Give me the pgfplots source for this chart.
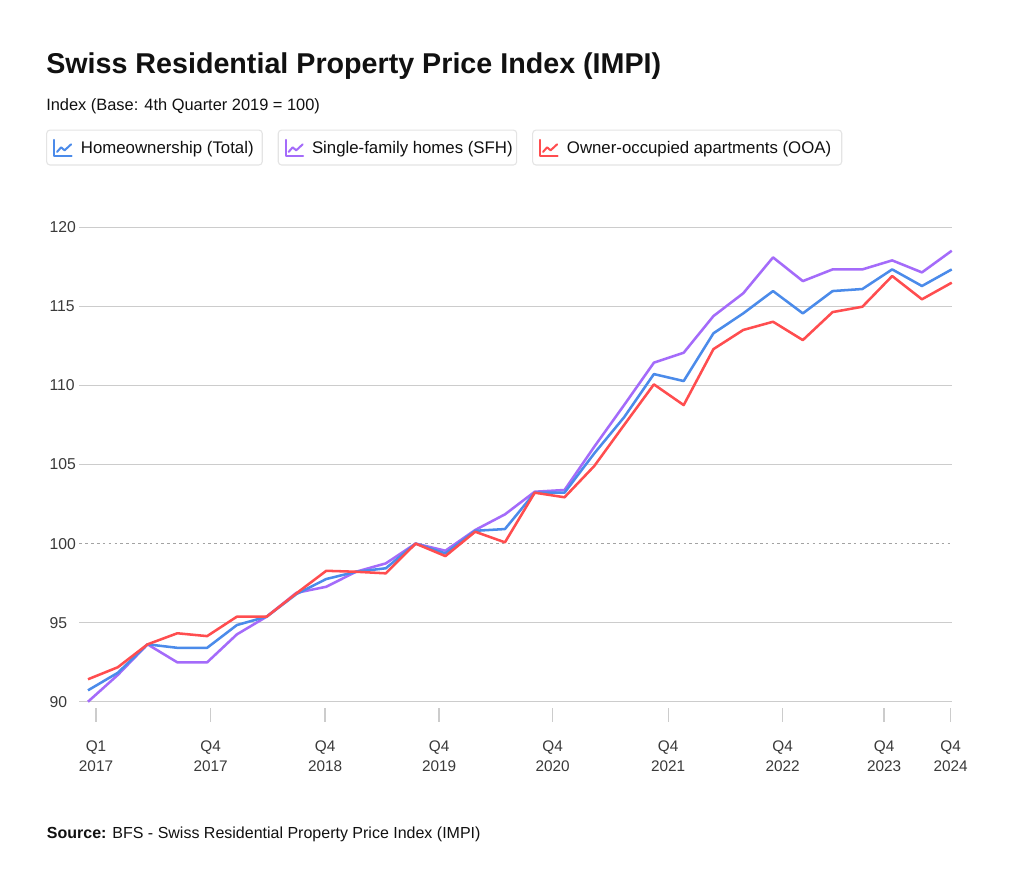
\documentclass[border=0pt]{standalone}
\usepackage{pgfplots}
\pgfplotsset{compat=1.18}
\usepackage{fontspec}
\setmainfont{Liberation Sans}

\definecolor{ctotal}{HTML}{4B8BEA}
\definecolor{csfh}{HTML}{A46BFA}
\definecolor{cooa}{HTML}{FF4D4F}
\definecolor{gridgray}{HTML}{CCCCCC}
\definecolor{labelgray}{HTML}{3A3A3A}
\definecolor{boxgray}{HTML}{E4E4E4}
\definecolor{titleblack}{HTML}{111111}

% quarterly index values, Q4 2019 = 100
\pgfplotstableread{
q  total   sfh     ooa
0  90.72   90.00   91.42
1  91.83   91.69   92.18
2  93.63   93.63   93.63
3  93.41   92.49   94.33
4  93.41   92.49   94.15
5  94.85   94.26   95.38
6  95.38   95.38   95.38
7  96.81   96.89   96.86
8  97.76   97.27   98.28
9  98.22   98.22   98.22
10 98.44   98.75   98.12
11 100.00  100.00  100.00
12 99.38   99.55   99.21
13 100.81  100.86  100.75
14 100.92  101.85  100.08
15 103.22  103.28  103.22
16 103.22  103.39  102.93
17 105.71  106.13  104.91
18 107.99  108.76  107.50
19 110.72  111.44  110.07
20 110.28  112.07  108.76
21 113.30  114.39  112.30
22 114.56  115.83  113.51
23 115.97  118.10  114.03
24 114.56  116.60  112.87
25 115.97  117.34  114.64
26 116.10  117.34  114.98
27 117.34  117.91  116.92
28 116.29  117.15  115.45
29 117.34  118.52  116.50
}\impi

% small line-chart icon used in the legend chips
\newcommand{\chicon}[3]{%
  \begin{scope}[shift={(#1,#2)}, x=0.75pt, y=-0.75pt]
    \draw[#3, line width=1.5pt, line cap=round, line join=round] (0.5,0.5) -- (0.5,16.5) -- (18,16.5);
    \draw[#3, line width=1.5pt, line cap=round, line join=round] (3.5,12.5) -- (7.5,8) -- (11,11) -- (17.5,5);
  \end{scope}}

\begin{document}
\begin{tikzpicture}
\fill[white] (0,0) rectangle (768pt,670.5pt);

% title block
\node[anchor=base west, inner sep=0pt, text=titleblack, font=\fontsize{21.5}{26}\selectfont\bfseries]
  at (34.5pt,615.4pt) {Swiss Residential Property Price Index (IMPI)};
\node[anchor=base west, inner sep=0pt, text=titleblack, font=\fontsize{12.3}{15}\selectfont]
  at (34.5pt,587.25pt) {Index (Base: 4th Quarter 2019 = 100)};

% legend chips
\draw[boxgray, line width=0.8pt, rounded corners=2.5pt] (35pt,572.95pt) rectangle (196.7pt,546.75pt);
\draw[boxgray, line width=0.8pt, rounded corners=2.5pt] (208.7pt,572.95pt) rectangle (387.5pt,546.75pt);
\draw[boxgray, line width=0.8pt, rounded corners=2.5pt] (399.5pt,572.95pt) rectangle (631.3pt,546.75pt);
\chicon{40.2pt}{566pt}{ctotal}
\chicon{213.9pt}{566pt}{csfh}
\chicon{404.7pt}{566pt}{cooa}
\node[anchor=base west, inner sep=0pt, text=titleblack, font=\fontsize{12.6}{15}\selectfont]
  at (60.5pt,555pt) {Homeownership (Total)};
\node[anchor=base west, inner sep=0pt, text=titleblack, font=\fontsize{12.6}{15}\selectfont]
  at (233.8pt,555pt) {Single-family homes (SFH)};
\node[anchor=base west, inner sep=0pt, text=titleblack, font=\fontsize{12.6}{15}\selectfont]
  at (425pt,555pt) {Owner-occupied apartments (OOA)};

\begin{axis}[
  at={(59.5pt,144.2pt)}, anchor=south west,
  scale only axis, width=654.3pt, height=355.8pt,
  xmin=-0.29, xmax=29, ymin=90, ymax=120,
  axis line style={draw=none},
  tick style={draw=none},
  ytick={90,95,105,110,115,120},
  extra y ticks={100},
  extra y tick style={grid style={gridgray!80!black, line width=0.7pt, dash pattern=on 2pt off 2.4pt}},
  ymajorgrids,
  grid style={gridgray, line width=0.9pt},
  xtick={0.27,4.12,7.96,11.79,15.6,19.48,23.32,26.73,28.96},
  xticklabels={{Q1\\2017},{Q4\\2017},{Q4\\2018},{Q4\\2019},{Q4\\2020},{Q4\\2021},{Q4\\2022},{Q4\\2023},{Q4\\2024}},
  /pgf/number format/assume math mode=true,
  xticklabel style={align=center, anchor=north, inner sep=0pt, yshift=-29pt,
    text=labelgray, font=\fontsize{11.5}{15}\selectfont},
  yticklabel style={anchor=west, inner sep=0pt, xshift=-22.5pt,
    text=labelgray, font=\fontsize{11.8}{14}\selectfont},
  clip=false,
  every axis plot/.append style={line width=1.9pt, line join=round, no markers},
]
\addplot[csfh] table[x=q, y=sfh] {\impi};
\addplot[ctotal] table[x=q, y=total] {\impi};
\addplot[cooa] table[x=q, y=ooa] {\impi};
\pgfplotsinvokeforeach{0.27,4.12,7.96,11.79,15.6,19.48,23.32,26.73,28.96}{
  \draw[gridgray, line width=1pt] ([yshift=-4.7pt]axis cs:#1,90) -- ([yshift=-15.2pt]axis cs:#1,90);
}
\end{axis}

% source line
\node[anchor=base west, inner sep=0pt, text=titleblack, font=\fontsize{12}{14}\selectfont]
  at (35pt,41.8pt) {\textbf{Source:} BFS - Swiss Residential Property Price Index (IMPI)};
\end{tikzpicture}
\end{document}
